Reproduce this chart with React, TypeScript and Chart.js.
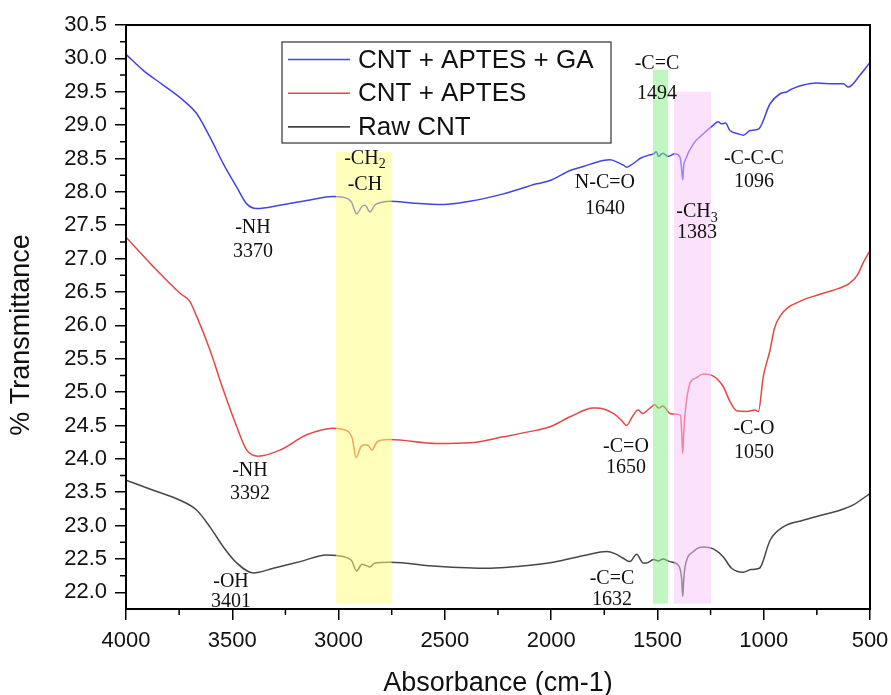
import React, { useEffect, useRef } from "react";
import { Chart, registerables } from "chart.js";

Chart.register(...registerables);

// ---------- data ----------
const seriesNames = ["CNT + APTES + GA", "CNT + APTES", "Raw CNT"];
const seriesColors = ["#4343e3", "#e24848", "#474747"];

const gaWave = [4000, 3919, 3825, 3730, 3667, 3605, 3542, 3479, 3432, 3385, 3276, 3150, 3025, 2980, 2940, 2915, 2890, 2876, 2852, 2830, 2813, 2758, 2648, 2507, 2382, 2225, 2068, 2005, 1911, 1849, 1755, 1723, 1692, 1660, 1645, 1625, 1606, 1582, 1540, 1519, 1505, 1494, 1475, 1450, 1418, 1394, 1388, 1381, 1376, 1370, 1331, 1284, 1237, 1214, 1200, 1180, 1159, 1120, 1096, 1080, 1065, 1025, 970, 923, 890, 875, 861, 814, 751, 673, 625, 602, 547, 500];
const gaT = [30.06, 29.82, 29.6, 29.37, 29.17, 28.82, 28.42, 28.07, 27.82, 27.75, 27.8, 27.87, 27.93, 27.92, 27.85, 27.67, 27.78, 27.8, 27.7, 27.8, 27.83, 27.86, 27.83, 27.81, 27.86, 27.97, 28.12, 28.17, 28.32, 28.38, 28.47, 28.48, 28.45, 28.4, 28.37, 28.4, 28.44, 28.5, 28.55, 28.57, 28.6, 28.53, 28.58, 28.53, 28.57, 28.52, 28.4, 28.18, 28.4, 28.47, 28.72, 28.87, 29.0, 29.05, 29.02, 29.03, 28.92, 28.87, 28.85, 28.88, 28.92, 28.94, 29.32, 29.47, 29.5, 29.53, 29.55, 29.6, 29.63, 29.62, 29.62, 29.57, 29.75, 29.94];

const aptesWave = [4000, 3872, 3746, 3700, 3667, 3605, 3542, 3479, 3432, 3378, 3276, 3150, 3025, 2960, 2935, 2918, 2895, 2876, 2860, 2844, 2820, 2800, 2758, 2539, 2382, 2225, 2068, 2005, 1911, 1802, 1786, 1708, 1670, 1645, 1620, 1598, 1590, 1570, 1535, 1512, 1494, 1475, 1441, 1420, 1391, 1386, 1381, 1376, 1370, 1347, 1320, 1284, 1237, 1190, 1159, 1127, 1080, 1041, 1025, 1002, 970, 950, 920, 880, 850, 800, 750, 700, 650, 600, 560, 530, 500];
const aptesT = [27.32, 26.88, 26.48, 26.36, 26.13, 25.63, 25.03, 24.48, 24.13, 24.04, 24.13, 24.36, 24.46, 24.42, 24.3, 24.02, 24.18, 24.21, 24.2, 24.13, 24.25, 24.28, 24.29, 24.23, 24.24, 24.33, 24.43, 24.48, 24.63, 24.76, 24.76, 24.68, 24.58, 24.5, 24.62, 24.72, 24.73, 24.68, 24.76, 24.81, 24.76, 24.79, 24.68, 24.67, 24.65, 24.4, 24.08, 24.4, 24.68, 25.13, 25.21, 25.27, 25.24, 25.08, 24.86, 24.72, 24.71, 24.73, 24.71, 25.23, 25.63, 25.95, 26.15, 26.28, 26.33, 26.4, 26.45, 26.5, 26.55, 26.62, 26.75, 26.95, 27.12];

const rawWave = [4000, 3872, 3746, 3667, 3605, 3542, 3479, 3401, 3307, 3181, 3056, 3010, 2940, 2915, 2890, 2870, 2852, 2830, 2758, 2539, 2288, 2147, 1990, 1833, 1739, 1700, 1661, 1629, 1598, 1567, 1551, 1519, 1494, 1475, 1441, 1400, 1386, 1381, 1376, 1370, 1331, 1284, 1237, 1190, 1151, 1096, 1060, 1020, 970, 908, 814, 735, 641, 579, 500];
const rawT = [23.68, 23.53, 23.38, 23.23, 22.98, 22.68, 22.44, 22.29, 22.36, 22.46, 22.56, 22.55, 22.48, 22.32, 22.42, 22.4, 22.38, 22.44, 22.45, 22.39, 22.36, 22.39, 22.45, 22.56, 22.61, 22.58, 22.51, 22.46, 22.57, 22.44, 22.44, 22.49, 22.47, 22.5, 22.46, 22.4, 22.2, 21.94, 22.2, 22.38, 22.61, 22.68, 22.65, 22.53, 22.36, 22.3, 22.34, 22.36, 22.78, 22.98, 23.08, 23.15, 23.23, 23.31, 23.48];

const xTicks = [4000, 3500, 3000, 2500, 2000, 1500, 1000, 500];
const yTicks = [22.0, 22.5, 23.0, 23.5, 24.0, 24.5, 25.0, 25.5, 26.0, 26.5, 27.0, 27.5, 28.0, 28.5, 29.0, 29.5, 30.0, 30.5];

// shaded regions
const bandFrom = [3012, 1521, 1422];
const bandTo = [2750, 1450, 1248];
const bandTop = [28.6, 29.83, 29.5];
const bandBottom = [21.83, 21.83, 21.83];
const bandColors = ["rgba(255,255,120,0.5)", "rgba(130,240,130,0.5)", "rgba(250,195,250,0.5)"];

// annotation texts (line center positions in data units)
const annText = ["-NH", "3370", "-NH", "3392", "-OH", "3401", "-CH", "-CH", "N-C=O", "1640", "-C=C", "1494", "-CH", "1383", "-C-C-C", "1096", "-C=O", "1650", "-C-O", "1050", "-C=C", "1632"];
const annSub = ["", "", "", "", "", "", "2", "", "", "", "", "", "3", "", "", "", "", "", "", "", "", ""];
const annWave = [3403, 3403, 3417, 3417, 3506, 3506, 2876, 2876, 1747, 1747, 1502, 1502, 1314, 1314, 1046, 1046, 1648, 1648, 1046, 1046, 1714, 1714];
const annValue = [27.455, 27.096, 23.817, 23.473, 22.156, 21.856, 28.503, 28.099, 28.129, 27.754, 29.925, 29.476, 27.695, 27.38, 28.503, 28.144, 24.177, 23.862, 24.446, 24.087, 22.201, 21.886];

const SANS = "'Liberation Sans', Arial, sans-serif";
const SERIF = "'Liberation Serif', 'Times New Roman', serif";

const overlayPlugin = {
  id: "overlay",
  afterDatasetsDraw(chart: any) {
    const { ctx, chartArea } = chart;
    const xs = chart.scales.x;
    const ys = chart.scales.y;
    ctx.save();
    // bands
    for (let i = 0; i < bandFrom.length; i++) {
      const x1 = xs.getPixelForValue(bandFrom[i]);
      const x2 = xs.getPixelForValue(bandTo[i]);
      const y1 = ys.getPixelForValue(bandTop[i]);
      const y2 = ys.getPixelForValue(bandBottom[i]);
      ctx.fillStyle = bandColors[i];
      ctx.fillRect(Math.min(x1, x2), y1, Math.abs(x2 - x1), y2 - y1);
    }
    // annotations
    ctx.fillStyle = "#111";
    ctx.textBaseline = "middle";
    ctx.textAlign = "left";
    for (let i = 0; i < annText.length; i++) {
      const cx = xs.getPixelForValue(annWave[i]);
      const cy = ys.getPixelForValue(annValue[i]);
      ctx.font = `20px ${SERIF}`;
      const w1 = ctx.measureText(annText[i]).width;
      let w2 = 0;
      if (annSub[i]) {
        ctx.font = `14px ${SERIF}`;
        w2 = ctx.measureText(annSub[i]).width;
      }
      const start = cx - (w1 + w2) / 2;
      ctx.font = `20px ${SERIF}`;
      ctx.fillText(annText[i], start, cy);
      if (annSub[i]) {
        ctx.font = `14px ${SERIF}`;
        ctx.fillText(annSub[i], start + w1, cy + 6);
      }
    }
    // frame
    ctx.strokeStyle = "#000";
    ctx.lineWidth = 2;
    ctx.strokeRect(chartArea.left, chartArea.top, chartArea.right - chartArea.left, chartArea.bottom - chartArea.top);
    // minor ticks
    ctx.lineWidth = 1.5;
    ctx.beginPath();
    for (let v = 3750; v > 500; v -= 500) {
      const px = xs.getPixelForValue(v);
      ctx.moveTo(px, chartArea.bottom);
      ctx.lineTo(px, chartArea.bottom + 6);
    }
    for (let v = 22.25; v < 30.5; v += 0.5) {
      const py = ys.getPixelForValue(v);
      ctx.moveTo(chartArea.left, py);
      ctx.lineTo(chartArea.left - 6, py);
    }
    ctx.stroke();
    // legend
    const lx = chartArea.left + 156;
    const ly = chartArea.top + 17;
    ctx.lineWidth = 1.2;
    ctx.strokeStyle = "#333";
    ctx.fillStyle = "#fff";
    ctx.fillRect(lx, ly, 329, 101);
    ctx.strokeRect(lx, ly, 329, 101);
    ctx.font = `26px ${SANS}`;
    ctx.textBaseline = "middle";
    for (let i = 0; i < seriesNames.length; i++) {
      const yy = ly + 17.5 + i * 33.7;
      ctx.strokeStyle = seriesColors[i];
      ctx.lineWidth = 1.6;
      ctx.beginPath();
      ctx.moveTo(lx + 6, yy);
      ctx.lineTo(lx + 68, yy);
      ctx.stroke();
      ctx.fillStyle = "#111";
      ctx.fillText(seriesNames[i], lx + 76, yy + 1);
    }
    // axis titles
    ctx.fillStyle = "#111";
    ctx.textAlign = "center";
    ctx.font = `27px ${SANS}`;
    ctx.fillText("Absorbance (cm-1)", (chartArea.left + chartArea.right) / 2, chartArea.bottom + 75);
    ctx.save();
    ctx.translate(chartArea.left - 104, (chartArea.top + chartArea.bottom) / 2 + 18);
    ctx.rotate(-Math.PI / 2);
    ctx.font = `27px ${SANS}`;
    ctx.fillText("% Transmittance", 0, 0);
    ctx.restore();
    ctx.restore();
  },
};

function makeData(w: number[], t: number[]) {
  return w.map((x, i) => ({ x, y: t[i] }));
}

const lineStyle = { borderWidth: 1.5, pointRadius: 0, cubicInterpolationMode: "monotone" as const };

export default function App() {
  const ref = useRef<HTMLCanvasElement | null>(null);
  useEffect(() => {
    if (!ref.current) return;
    const chart = new Chart(ref.current, {
      type: "line",
      data: {
        datasets: [
          { label: seriesNames[0], data: makeData(gaWave, gaT), borderColor: seriesColors[0], ...lineStyle },
          { label: seriesNames[1], data: makeData(aptesWave, aptesT), borderColor: seriesColors[1], ...lineStyle },
          { label: seriesNames[2], data: makeData(rawWave, rawT), borderColor: seriesColors[2], ...lineStyle },
        ],
      },
      options: {
        responsive: false,
        animation: false,
        devicePixelRatio: 1,
        layout: { padding: { top: 25, right: 21, left: 0, bottom: 0 } },
        plugins: { legend: { display: false }, tooltip: { enabled: false } },
        scales: {
          x: {
            type: "linear",
            reverse: true,
            min: 500,
            max: 4000,
            afterBuildTicks: (s: any) => { s.ticks = xTicks.map((v) => ({ value: v })); },
            afterFit: (s: any) => { s.height = 86; s.paddingRight = 0; s.paddingLeft = 0; },
            grid: { display: true, drawOnChartArea: false, drawTicks: true, tickLength: 11, color: "#000", lineWidth: 1.5 },
            border: { display: false },
            ticks: { font: { size: 22, family: SANS }, color: "#111", padding: 8, maxRotation: 0, autoSkip: false, callback: (v: any) => String(v) },
          },
          y: {
            type: "linear",
            min: 21.75,
            max: 30.5,
            afterBuildTicks: (s: any) => { s.ticks = yTicks.map((v) => ({ value: v })); },
            afterFit: (s: any) => { s.width = 126; s.paddingTop = 0; s.paddingBottom = 0; },
            grid: { display: true, drawOnChartArea: false, drawTicks: true, tickLength: 11, color: "#000", lineWidth: 1.5 },
            border: { display: false },
            ticks: { font: { size: 22, family: SANS }, color: "#111", padding: 8, autoSkip: false, callback: (v: any) => Number(v).toFixed(1) },
          },
        },
      },
      plugins: [overlayPlugin],
    });
    return () => chart.destroy();
  }, []);
  return (
    <div style={{ position: "absolute", left: 0, top: 0, width: 891, height: 695, background: "#fff" }}>
      <canvas ref={ref} width={891} height={695} style={{ display: "block" }} />
    </div>
  );
}
